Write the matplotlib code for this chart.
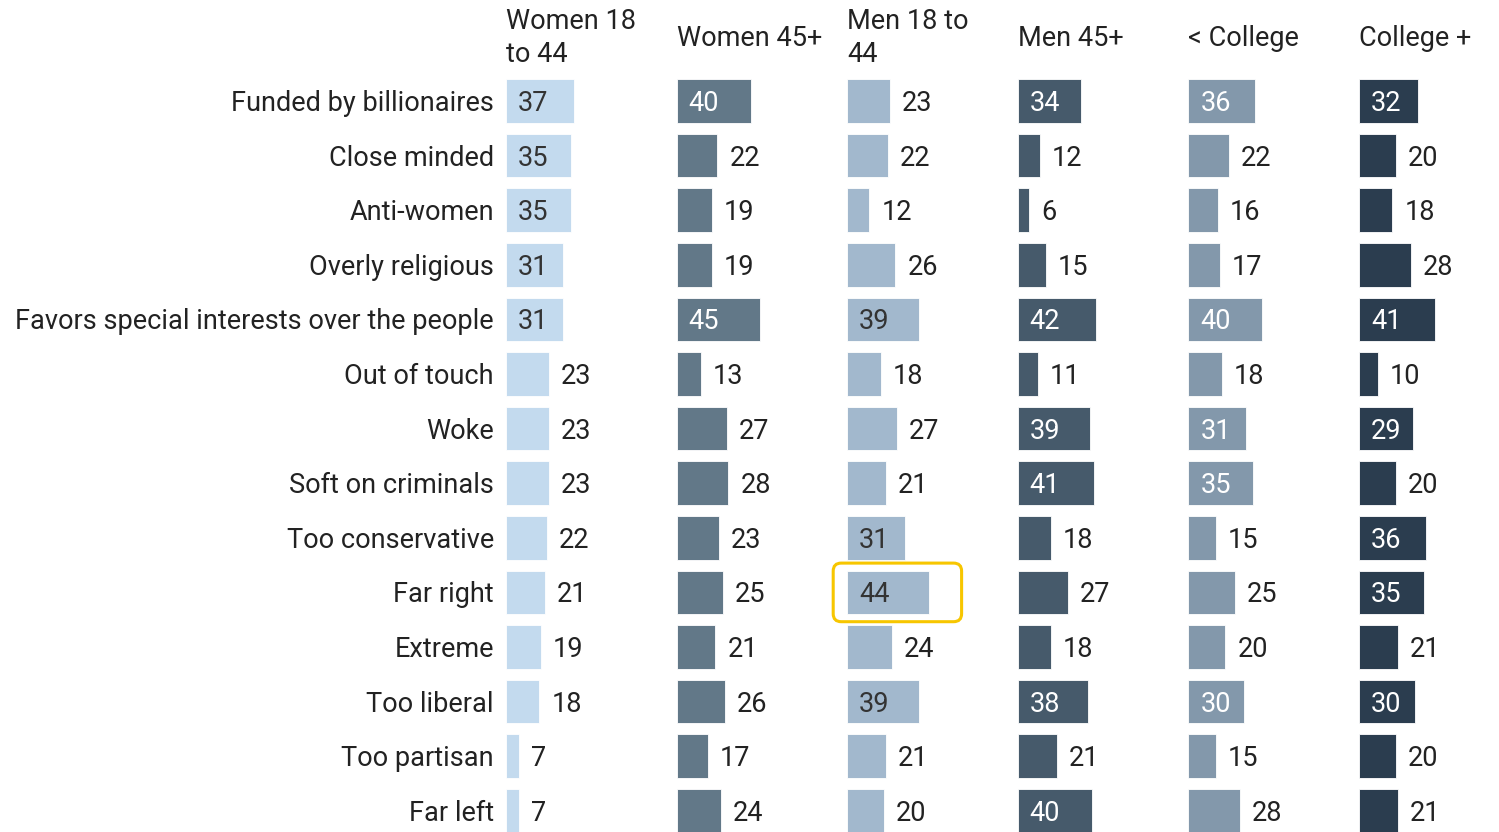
import matplotlib
matplotlib.use("Agg")
import matplotlib.pyplot as plt
from matplotlib.patches import FancyBboxPatch

plt.rcParams['font.family'] = ['Roboto', 'DejaVu Sans']

categories = [
    "Funded by billionaires", "Close minded", "Anti-women", "Overly religious",
    "Favors special interests over the people", "Out of touch", "Woke",
    "Soft on criminals", "Too conservative", "Far right", "Extreme",
    "Too liberal", "Too partisan", "Far left",
]

groups = ["Women 18\nto 44", "Women 45+", "Men 18 to\n44", "Men 45+", "< College", "College +"]

women_18_44 = [37, 35, 35, 31, 31, 23, 23, 23, 22, 21, 19, 18, 7, 7]
women_45 = [40, 22, 19, 19, 45, 13, 27, 28, 23, 25, 21, 26, 17, 24]
men_18_44 = [23, 22, 12, 26, 39, 18, 27, 21, 31, 44, 24, 39, 21, 20]
men_45 = [34, 12, 6, 15, 42, 11, 39, 41, 18, 27, 18, 38, 21, 40]
below_college = [36, 22, 16, 17, 40, 18, 31, 35, 15, 25, 20, 30, 15, 28]
college_plus = [32, 20, 18, 28, 41, 10, 29, 20, 36, 35, 21, 30, 20, 21]

series = [women_18_44, women_45, men_18_44, men_45, below_college, college_plus]
colors = ["#c3daee", "#627888", "#a2b8cd", "#465a6b", "#8398ab", "#2b3d4f"]
inner_text = ["#333333", "white", "#333333", "white", "white", "white"]

W, H = 1499, 832
fig = plt.figure(figsize=(W / 100, H / 100), dpi=100)

col_left = 506
col_step = 170.6
col_w = 170
px_per_unit = 1.85
row0 = 101
row_step = 54.6
ax_top = row0 - row_step / 2
n_rows_visible = (H - ax_top) / row_step
text_dy = 2.5 / row_step  # nudge labels to sit optically centred on bars

text_color = "#222222"
fs = 19.55
threshold = 29

axes = []
for i, (vals, col) in enumerate(zip(series, colors)):
    left = col_left + i * col_step
    ax = fig.add_axes([left / W, 0, col_w / W, (H - ax_top) / H])
    ax.set_xlim(0, col_w / px_per_unit)
    ax.set_ylim(-0.5 + n_rows_visible, -0.5)
    ax.axis("off")
    y = list(range(len(categories)))
    ax.barh(y, vals, height=0.8, color=col, edgecolor="white", linewidth=0.6)
    for k, v in enumerate(vals):
        if v >= threshold:
            ax.text(12 / px_per_unit, k + text_dy, str(v), ha="left", va="center",
                    fontsize=fs, color=inner_text[i])
        else:
            ax.text(v + 12 / px_per_unit, k + text_dy, str(v), ha="left", va="center",
                    fontsize=fs, color=text_color)
    fig.text(left / W, 1 - 38 / H, groups[i], ha="left", va="center",
             fontsize=fs, color=text_color, linespacing=1.25)
    axes.append(ax)

# category labels
for k, cat in enumerate(categories):
    fig.text(494 / W, 1 - (row0 + 2.5 + k * row_step) / H, cat, ha="right", va="center",
             fontsize=fs, color=text_color)

# highlight: Men 18 to 44, Far right
ax = axes[2]
k = categories.index("Far right")
v = men_18_44[k]
fig.canvas.draw()
(x0, y0) = ax.transData.transform((0, k + 0.5))
(x1, y1) = ax.transData.transform((v, k - 0.5))
pad_l, pad_r, pad_v = 14, 33, 2
box = FancyBboxPatch((x0 - pad_l + 8, y0 - pad_v + 8),
                     (x1 + pad_r - 8) - (x0 - pad_l + 8),
                     (y1 + pad_v - 8) - (y0 - pad_v + 8),
                     boxstyle="round,pad=8", transform=None,
                     facecolor="none", edgecolor="#f7c600", linewidth=2.2,
                     zorder=10)
fig.patches.append(box)

fig.savefig("out.png", dpi=100)
